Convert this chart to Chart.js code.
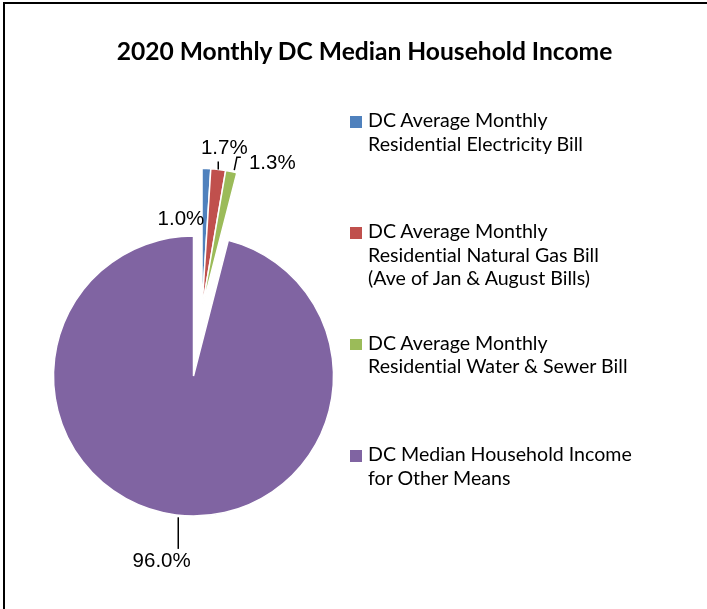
<!DOCTYPE html>
<html>
<head>
<meta charset="utf-8">
<script src="https://cdn.jsdelivr.net/npm/chart.js@4.4.1/dist/chart.umd.min.js"></script>
<style>
  html, body { margin: 0; padding: 0; background: #fff; }
  #wrap { position: relative; width: 707px; height: 609px; overflow: hidden; }
  #frame { position: absolute; left: 3px; top: 2px; width: 800px; height: 700px;
           border-left: 2px solid #000; border-top: 2px solid #000; }
  #pie { position: absolute; left: 0; top: 0; }
  #title { position: absolute; left: 0; top: 39px; width: 729px; text-align: center;
           font: bold 24.6px Lato, sans-serif; line-height: 24px; color: #000; white-space: nowrap;
           font-variant-ligatures: none; }
  #legend { position: absolute; left: 368px; top: 108px; }
  .item { position: relative; height: 111.4px; font: 19.6px Lato, sans-serif; line-height: 23.5px; color: #000;
          font-variant-ligatures: none; white-space: nowrap; }
  .item .box { position: absolute; left: -18px; top: 8px; width: 11.5px; height: 11.5px; }
</style>
</head>
<body>
<div id="wrap">
  <div id="frame"></div>
  <canvas id="pie" width="707" height="609"></canvas>
  <div id="title">2020 Monthly DC Median Household Income</div>
  <div id="legend"></div>
</div>
<script>
// categories (legend text, one entry per line)
const labels = [
  ['DC Average Monthly', 'Residential Electricity Bill'],
  ['DC Average Monthly', 'Residential Natural Gas Bill', '(Ave of Jan & August Bills)'],
  ['DC Average Monthly', 'Residential Water & Sewer Bill'],
  ['DC Median Household Income', 'for Other Means']
];
// share of monthly income, %
const shares = [1.0, 1.7, 1.3, 96.0];
const colors = ['#4F81BD', '#C0504D', '#9BBB59', '#8064A2'];
// which slices are pulled out of the pie
const exploded = [true, true, true, false];

// label placement relative to the slice's outer mid point (style only)
const labelStyle = [
  { dx: -25.5, dy: 50.4, leader: null },
  { dx: 6, dy: -21, leader: [[0, 0], [0, -8]] },
  { dx: 41, dy: -8.6, leader: [[3, -1.6], [5.6, -14.3], [9.6, -14.3]] },
  { dx: -14.3, dy: 46, leader: [[2.3, 2.4], [2.3, 34]] }
];
const EXPLODE = 68;

function groupShift(meta) {
  const arcs = meta.data.filter((a, i) => exploded[i]);
  if (!arcs.length) return { x: 0, y: 0 };
  const mid = (arcs[0].startAngle + arcs[arcs.length - 1].endAngle) / 2;
  return { x: Math.cos(mid) * EXPLODE, y: Math.sin(mid) * EXPLODE };
}

const explodePlugin = {
  id: 'explode',
  beforeDatasetDraw(chart, args) {
    const ctx = chart.ctx;
    const shift = groupShift(args.meta);
    args.meta.data.forEach((arc, i) => {
      ctx.save();
      if (exploded[i]) ctx.translate(shift.x, shift.y);
      arc.draw(ctx);
      ctx.restore();
    });
    return false;
  }
};

const labelPlugin = {
  id: 'sliceLabels',
  afterDatasetsDraw(chart) {
    const ctx = chart.ctx;
    const meta = chart.getDatasetMeta(0);
    const shift = groupShift(meta);
    ctx.save();
    ctx.font = '20.5px "Liberation Sans", Arial, sans-serif';
    ctx.fillStyle = '#000';
    ctx.strokeStyle = '#000';
    ctx.lineWidth = 1.5;
    ctx.textAlign = 'center';
    ctx.textBaseline = 'middle';
    meta.data.forEach((arc, i) => {
      const p = arc.getProps(['x', 'y', 'startAngle', 'endAngle', 'outerRadius'], true);
      const mid = (p.startAngle + p.endAngle) / 2;
      let ox = p.x + Math.cos(mid) * p.outerRadius;
      let oy = p.y + Math.sin(mid) * p.outerRadius;
      if (exploded[i]) { ox += shift.x; oy += shift.y; }
      const st = labelStyle[i];
      if (st.leader) {
        ctx.beginPath();
        st.leader.forEach(([lx, ly], k) => {
          if (k === 0) ctx.moveTo(ox + lx, oy + ly); else ctx.lineTo(ox + lx, oy + ly);
        });
        ctx.stroke();
      }
      ctx.fillText(shares[i].toFixed(1) + '%', ox + st.dx, oy + st.dy);
    });
    ctx.restore();
  }
};

new Chart(document.getElementById('pie'), {
  type: 'pie',
  data: {
    labels: labels.map((l) => l.join(' ')),
    datasets: [{
      data: shares,
      backgroundColor: colors,
      borderColor: '#fff',
      borderWidth: 1.5,
      hoverOffset: 0
    }]
  },
  options: {
    responsive: false,
    animation: false,
    devicePixelRatio: 1,
    radius: 140,
    layout: { padding: { left: 40, right: 360, top: 240, bottom: 97 } },
    plugins: {
      legend: { display: false },
      tooltip: { enabled: false }
    }
  },
  plugins: [explodePlugin, labelPlugin]
});

// legend built from the same arrays
const legend = document.getElementById('legend');
labels.forEach((lines, i) => {
  const item = document.createElement('div');
  item.className = 'item';
  const box = document.createElement('span');
  box.className = 'box';
  box.style.background = colors[i];
  item.appendChild(box);
  lines.forEach((t) => {
    const line = document.createElement('div');
    line.textContent = t;
    item.appendChild(line);
  });
  legend.appendChild(item);
});
</script>
</body>
</html>
